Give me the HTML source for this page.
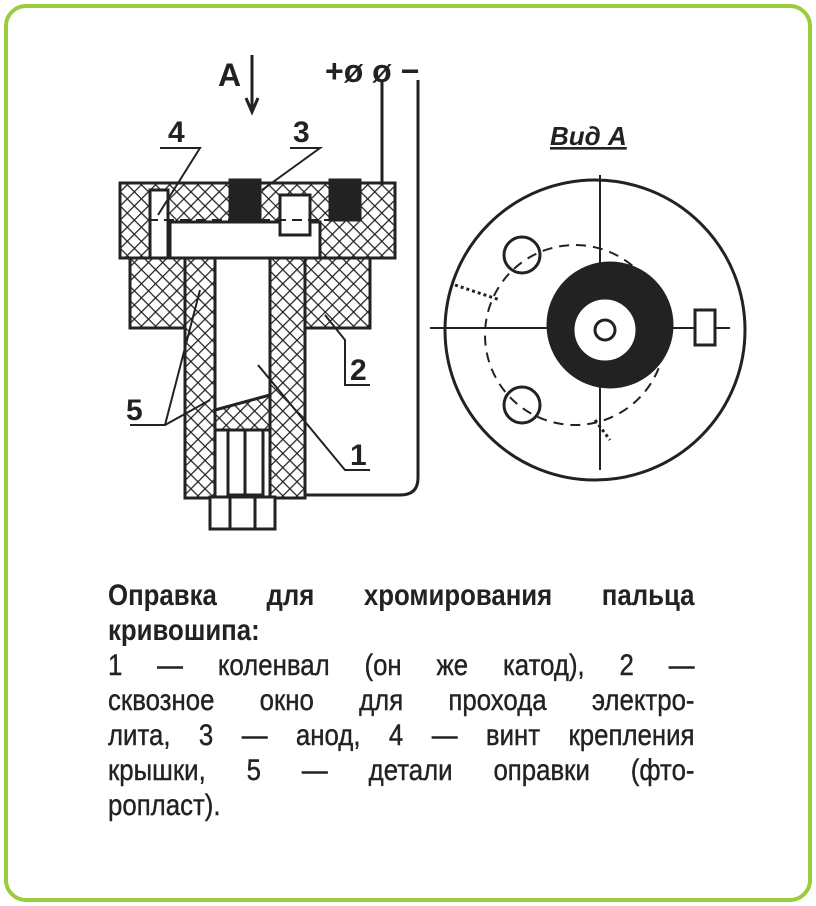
<!DOCTYPE html>
<html><head><meta charset="utf-8"><style>
html,body{margin:0;padding:0;background:#fff;}
body{width:816px;height:906px;position:relative;overflow:hidden;}
.frame{position:absolute;left:4px;top:4px;width:800px;height:890px;border:4px solid #9ccc3c;border-radius:22px;}
.txt{position:absolute;left:108px;top:578px;width:682px;transform:scaleX(0.86);transform-origin:0 0;font-family:"Liberation Sans",sans-serif;font-size:30px;line-height:35px;color:#222;}
.l{display:block;text-align:justify;text-align-last:justify;white-space:nowrap;height:35px;}
.b{font-weight:bold;}
.nl{text-align-last:left;}
.r{-webkit-text-stroke:0.4px #222;}
</style></head><body>
<div class="frame"></div>
<svg width="816" height="906" style="position:absolute;left:0;top:0">
<defs>
<pattern id="h" width="10" height="10" patternUnits="userSpaceOnUse" patternTransform="rotate(45)">
<rect width="10" height="10" fill="#fff"/><line x1="0" y1="0" x2="0" y2="10" stroke="#222" stroke-width="2.5"/><line x1="0" y1="0" x2="10" y2="0" stroke="#222" stroke-width="2.5"/>
</pattern>
</defs>
<g stroke="#222" stroke-width="3" fill="none" font-family="Liberation Sans,sans-serif" font-weight="bold">
<rect x="120" y="183" width="275" height="75" fill="url(#h)"/>
<rect x="170" y="222" width="150" height="38" fill="#fff"/>
<rect x="230" y="180" width="30" height="40" fill="#222"/>
<rect x="330" y="180" width="30" height="40" fill="#222"/>
<rect x="280" y="195" width="30" height="40" fill="#fff"/>
<rect x="150" y="190" width="18" height="135" fill="#fff"/>
<rect x="130" y="258" width="240" height="70" fill="url(#h)"/>
<rect x="185" y="258" width="120" height="240" fill="url(#h)"/>
<rect x="215" y="258" width="55" height="240" fill="#fff"/>
<path d="M215 410 L270 395 L270 430 L215 430Z" fill="url(#h)"/>
<rect x="228" y="430" width="35" height="65" fill="#fff"/>
<line x1="245" y1="430" x2="245" y2="495"/>
<rect x="210" y="497" width="65" height="32" fill="#fff"/>
<line x1="230" y1="497" x2="230" y2="529"/><line x1="255" y1="497" x2="255" y2="529"/>
<path d="M305 495 L400 495 Q418 495 418 478 L418 80"/>
<path d="M382 80 L382 185"/>
<line x1="252" y1="55" x2="252" y2="110"/><path d="M246 98 L252 112 L258 98"/>
<line x1="148" y1="220" x2="340" y2="220" stroke-dasharray="10 6" stroke-width="2"/>
<path d="M160 148 L200 148 L158 215" stroke-width="2"/>
<path d="M290 148 L320 148 L262 190" stroke-width="2"/>
<path d="M325 315 L345 340 L345 385 L370 385" stroke-width="2"/>
<path d="M130 425 L165 425 L200 290" stroke-width="2"/>
<path d="M165 425 L210 400" stroke-width="2"/>
<path d="M258 365 L345 470 L370 470" stroke-width="2"/>
<circle cx="595" cy="330" r="150" fill="#fff"/>
<line x1="430" y1="328" x2="730" y2="328" stroke-width="2"/>
<line x1="600" y1="175" x2="600" y2="470" stroke-width="2"/>
<circle cx="575" cy="335" r="90" stroke-dasharray="10 7" stroke-width="2"/>
<circle cx="610" cy="325" r="62" fill="#222"/>
<circle cx="605" cy="330" r="32" fill="#fff"/>
<circle cx="605" cy="330" r="10"/>
<circle cx="522" cy="255" r="18"/><circle cx="522" cy="405" r="18"/>
<rect x="695" y="310" width="20" height="35" fill="#fff"/>
<path d="M455 285 L500 300" stroke-dasharray="3 3"/>
<path d="M595 420 L610 440" stroke-dasharray="3 3"/>
</g>
<g font-family="Liberation Sans,sans-serif" font-weight="bold" fill="#222">
<text x="218" y="86" font-size="32">А</text>
<text x="325" y="82" font-size="32">+ø ø −</text>
<text x="168" y="142" font-size="30">4</text>
<text x="293" y="142" font-size="30">3</text>
<text x="350" y="380" font-size="30">2</text>
<text x="126" y="420" font-size="30">5</text>
<text x="350" y="465" font-size="30">1</text>
<text x="550" y="145" font-size="26" font-style="italic" text-decoration="underline">Вид А</text>
</g>
</svg>
<div class="txt">
<span class="l b">Оправка для хромирования пальца</span>
<span class="l b nl">кривошипа:</span>
<span class="l r">1 — коленвал (он же катод), 2 —</span>
<span class="l r">сквозное окно для прохода электро-</span>
<span class="l r">лита, 3 — анод, 4 — винт крепления</span>
<span class="l r">крышки, 5 — детали оправки (фто-</span>
<span class="l r nl">ропласт).</span>
</div>
</body></html>
